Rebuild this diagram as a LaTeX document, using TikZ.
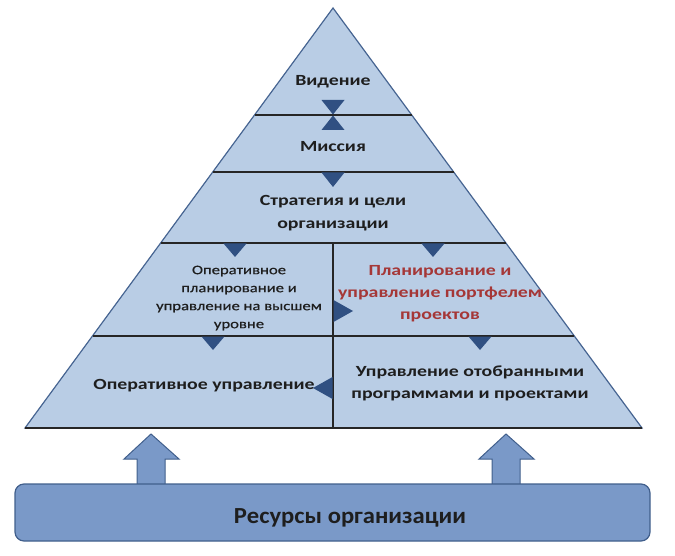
\documentclass[tikz,border=0pt]{standalone}
\usepackage{fontspec}
\setmainfont{Carlito}
\newfontfamily\pyr[FakeStretch=1.28]{Carlito}
\newfontfamily\pyrsmall[FakeStretch=1.28,FakeBold=0.6]{Carlito}
\newfontfamily\resfont[FakeStretch=1.07]{Carlito}
\definecolor{pyrfill}{RGB}{185,205,229}
\definecolor{pyredge}{RGB}{70,100,145}
\definecolor{markc}{RGB}{48,80,130}
\definecolor{barfill}{RGB}{122,153,200}
\definecolor{baredge}{RGB}{65,95,140}
\definecolor{redtxt}{RGB}{165,55,55}
\definecolor{txt}{RGB}{30,30,30}
\tikzset{
  lbl/.style={text=txt, align=center, inner sep=0pt, font=\pyr\bfseries\fontsize{15.5}{23}\selectfont},
  small/.style={text=txt, align=center, inner sep=0pt, font=\pyrsmall\fontsize{13}{18}\selectfont},
  sep/.style={draw=black!85, line width=1.1pt},
  marker/.style={fill=markc},
  blockarrow/.style={fill=barfill, draw=baredge, line width=1pt, line join=miter},
}
\begin{document}
\begin{tikzpicture}[x=1pt,y=-1pt]
\useasboundingbox (0,0) rectangle (675,556);
% pyramid
\filldraw[fill=pyrfill, draw=pyredge, line width=1.2pt, line join=miter] (333,8) -- (25,428) -- (642,428) -- cycle;
\draw[sep] (254.5,115) -- (411.7,115);
\draw[sep] (212.7,172) -- (453.7,172);
\draw[sep] (160.7,243) -- (505.9,243);
\draw[sep] (92.5,336) -- (574.3,336);
\draw[sep] (333,243) -- (333,428);
\draw[sep] (25,428) -- (642,428);
% markers
\fill[marker] (321.5,100) -- (344.5,100) -- (333,114.5) -- cycle;
\fill[marker] (321.5,130) -- (344.5,130) -- (333,115.5) -- cycle;
\fill[marker] (321.5,172.5) -- (344.5,172.5) -- (333,187) -- cycle;
\fill[marker] (223.5,243.5) -- (246.5,243.5) -- (235,257) -- cycle;
\fill[marker] (421.5,243.5) -- (444.5,243.5) -- (433,257) -- cycle;
\fill[marker] (201.5,336.5) -- (224.5,336.5) -- (213,350) -- cycle;
\fill[marker] (468.5,336.5) -- (491.5,336.5) -- (480,350) -- cycle;
\fill[marker] (333.5,300) -- (333.5,322) -- (353,311) -- cycle;
\fill[marker] (332.5,377) -- (332.5,399) -- (313,388) -- cycle;
% texts
\node[lbl] (vid) at (333,82) {Видение};
\node[lbl] (mis) at (333,147) {Миссия};
\node[lbl] (str) at (333,213) {Стратегия и цели\\организации};
\node[small] (opl) at (239,298) {Оперативное\\планирование и\\управление на высшем\\уровне};
\node[lbl, text=redtxt, font=\pyr\bfseries\fontsize{15.5}{22}\selectfont] (port) at (440,294) {Планирование и\\управление портфелем\\проектов};
\node[lbl] (opu) at (204,386) {Оперативное управление};
\node[lbl, font=\pyr\bfseries\fontsize{15.5}{22}\selectfont] (upr) at (470,383) {Управление отобранными\\программами и проектами};
% block arrows
\filldraw[blockarrow] (137,486) -- (137,459) -- (124,459) -- (151,434) -- (179,459) -- (165,459) -- (165,486) -- cycle;
\filldraw[blockarrow] (492,486) -- (492,459) -- (479,459) -- (506,434) -- (534,459) -- (520,459) -- (520,486) -- cycle;
% resources bar
\filldraw[fill=barfill, draw=baredge, line width=1.2pt, rounded corners=9pt] (15,484) rectangle (650,541);
\node[text=txt, inner sep=0pt, font=\resfont\bfseries\fontsize{23}{27}\selectfont] (res) at (350,518) {Ресурсы организации};
\end{tikzpicture}
\end{document}
